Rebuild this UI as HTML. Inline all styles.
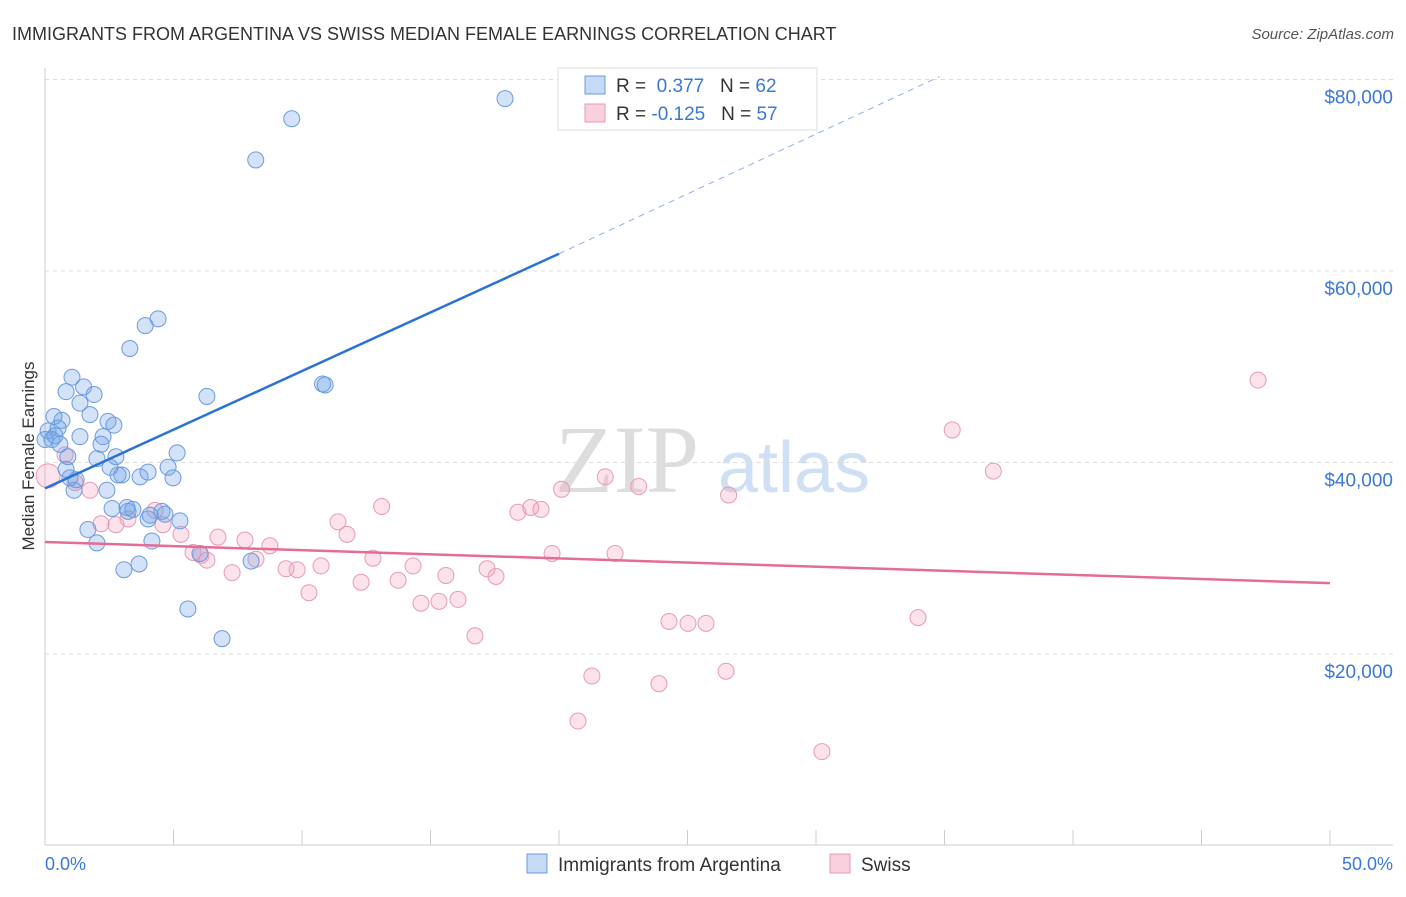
<!DOCTYPE html>
<html><head><meta charset="utf-8"><style>
body{margin:0;background:#fff;font-family:"Liberation Sans",sans-serif}
</style></head><body>
<svg width="1406" height="892" xmlns="http://www.w3.org/2000/svg" font-family="Liberation Sans, sans-serif">
<text x="12" y="40" font-size="18" fill="#333">IMMIGRANTS FROM ARGENTINA VS SWISS MEDIAN FEMALE EARNINGS CORRELATION CHART</text>
<text x="1394" y="39" font-size="15" fill="#555" text-anchor="end" font-style="italic">Source: ZipAtlas.com</text>
<text x="555" y="492" font-size="96" fill="#ddd" font-family="Liberation Serif, serif">ZIP</text>
<text x="718" y="492" font-size="72" fill="#cfe0f5">atlas</text>
<g id="grid"></g>
<g id="axes"></g>
<text transform="translate(34,456) rotate(-90)" font-size="17" fill="#333" text-anchor="middle">Median Female Earnings</text>
<g id="pts"></g>
<g id="trend"></g>
<g>
<rect x="558" y="68" width="259" height="62" fill="#fff" stroke="#ddd"/>
<rect x="585" y="76" width="20" height="18" fill="#c5daf6" stroke="#6a9be0"/>
<text x="616" y="92" font-size="19" fill="#333">R = <tspan fill="#3a78d8">&#160;0.377</tspan>&#160;&#160;&#160;N = <tspan fill="#3a78d8">62</tspan></text>
<rect x="585" y="104" width="20" height="18" fill="#f9d0dd" stroke="#e89ab5"/>
<text x="616" y="120" font-size="19" fill="#333">R = <tspan fill="#3a78d8">-0.125</tspan>&#160;&#160;&#160;N = <tspan fill="#3a78d8">57</tspan></text>
</g>
<g>
<rect x="527" y="854" width="20" height="19" fill="#c5daf6" stroke="#6a9be0"/>
<text x="558" y="871" font-size="19" fill="#333">Immigrants from Argentina</text>
<rect x="830" y="854" width="20" height="19" fill="#f9d0dd" stroke="#e89ab5"/>
<text x="861" y="871" font-size="19" fill="#333">Swiss</text>
</g>
<text x="45" y="870" font-size="18" fill="#3a78d8">0.0%</text>
<text x="1393" y="870" font-size="18" fill="#3a78d8" text-anchor="end">50.0%</text>
</svg>
<script>
const yTicks=[20000,40000,60000,80000];
const yTickLabels=["$20,000","$40,000","$60,000","$80,000"];
const blueX=[17.9,9.6,8.2,4.4,3.9,3.3,10.8,10.9,6.3,1.05,1.5,0.82,1.91,1.36,0.35,1.75,0.66,2.45,2.68,0.51,0.12,0.39,1.36,2.26,2.18,0.89,2.02,2.76,5.14,0.82,4.79,4.01,2.84,2.99,3.7,4.98,1.21,1.13,2.41,2.61,3.19,3.42,4.55,4.67,4.01,5.25,1.67,4.16,2.02,3.66,3.07,8.02,5.56,6.89,6.03,0.0,0.27,0.58,3.23,4.09,0.97,2.53];
const blueY=[78.0,75.9,71.6,55.0,54.3,51.9,48.2,48.1,46.9,48.9,47.9,47.4,47.1,46.2,44.8,45.0,44.4,44.3,43.9,43.6,43.3,42.8,42.7,42.7,41.9,40.6,40.4,40.6,41.0,39.3,39.5,39.0,38.7,38.7,38.5,38.4,38.2,37.1,37.1,35.2,35.3,35.1,34.9,34.6,34.1,33.9,33.0,31.8,31.6,29.4,28.8,29.7,24.7,21.6,30.5,42.4,42.4,41.9,34.9,34.5,38.4,39.5];
const pinkX=[47.2,35.3,36.9,21.8,23.1,20.1,26.6,13.1,18.9,19.3,18.4,11.4,4.28,3.23,2.76,2.18,4.59,11.75,5.29,6.73,7.78,8.75,5.76,6.07,8.21,6.3,12.76,19.73,22.18,14.32,10.74,9.38,9.81,17.2,7.28,15.6,17.55,12.3,13.74,10.27,16.07,15.33,14.63,24.28,25.02,25.72,33.97,16.73,26.5,21.28,23.89,20.74,30.23,0.78,1.75,1.17,0.12];
const pinkY=[48.6,43.4,39.1,38.5,37.5,37.2,36.6,35.4,35.3,35.1,34.8,33.8,35.0,34.1,33.5,33.6,33.5,32.5,32.5,32.2,31.9,31.3,30.6,30.3,29.9,29.8,30.0,30.5,30.5,29.2,29.2,28.9,28.8,28.9,28.5,28.2,28.1,27.5,27.7,26.4,25.7,25.5,25.3,23.4,23.2,23.2,23.8,21.9,18.2,17.7,16.9,13.0,9.8,40.8,37.1,37.9,38.6];
const blueTrend=[[0,37.3],[20,61.8],[34.8,80.3]];
const pinkTrend=[[0,31.7],[50,27.4]];
const NS="http://www.w3.org/2000/svg";
const X=v=>45+v/50*1285, Y=v=>845.5-v/20*191.5;
function mk(t,a,p){const e=document.createElementNS(NS,t);for(const k in a)e.setAttribute(k,a[k]);p.appendChild(e);return e;}
const grid=document.getElementById('grid'),axes=document.getElementById('axes');
yTicks.forEach((t,i)=>{
 const l=mk('line',{x1:45,x2:1393,y1:Y(t/1000),y2:Y(t/1000),stroke:'#ddd','stroke-dasharray':'4,4'},grid);
 
 
 const tx=mk('text',{x:1393,y:Y(t/1000)+24,'font-size':19,fill:'#3a78d8','text-anchor':'end'},grid);
 tx.textContent=yTickLabels[i];
 
 
});
const ax=mk('line',{x1:45,x2:1393,y1:845,y2:845,stroke:'#ccc'},axes);


const ay=mk('line',{x1:45,x2:45,y1:68,y2:845,stroke:'#ccc'},axes);


for(let i=0;i<=10;i++){const t=mk('line',{x1:X(i*5),x2:X(i*5),y1:830,y2:845,stroke:'#ccc'},axes);
 
 }
const pts=document.getElementById('pts');
pinkX.forEach((x,i)=>{const c=mk('circle',{cx:X(x),cy:Y(pinkY[i]),r:i==pinkX.length-1?12:8,fill:'rgba(244,160,190,0.3)',stroke:'#e89ab5','stroke-width':1},pts);
 
 });
blueX.forEach((x,i)=>{const c=mk('circle',{cx:X(x),cy:Y(blueY[i]),r:8,fill:'rgba(110,160,230,0.3)',stroke:'#6a9be0','stroke-width':1},pts);
 
 });
const tr=document.getElementById('trend');
const b1=mk('line',{x1:X(blueTrend[0][0]),y1:Y(blueTrend[0][1]),x2:X(blueTrend[1][0]),y2:Y(blueTrend[1][1]),stroke:'#2a72d6','stroke-width':2.5},tr);


const b2=mk('line',{x1:X(blueTrend[1][0]),y1:Y(blueTrend[1][1]),x2:X(blueTrend[2][0]),y2:Y(blueTrend[2][1]),stroke:'#8ab0e6','stroke-width':1,'stroke-dasharray':'6,5'},tr);


const p1=mk('line',{x1:X(pinkTrend[0][0]),y1:Y(pinkTrend[0][1]),x2:X(pinkTrend[1][0]),y2:Y(pinkTrend[1][1]),stroke:'#e56b98','stroke-width':2.5},tr);


</script>
</body></html>
